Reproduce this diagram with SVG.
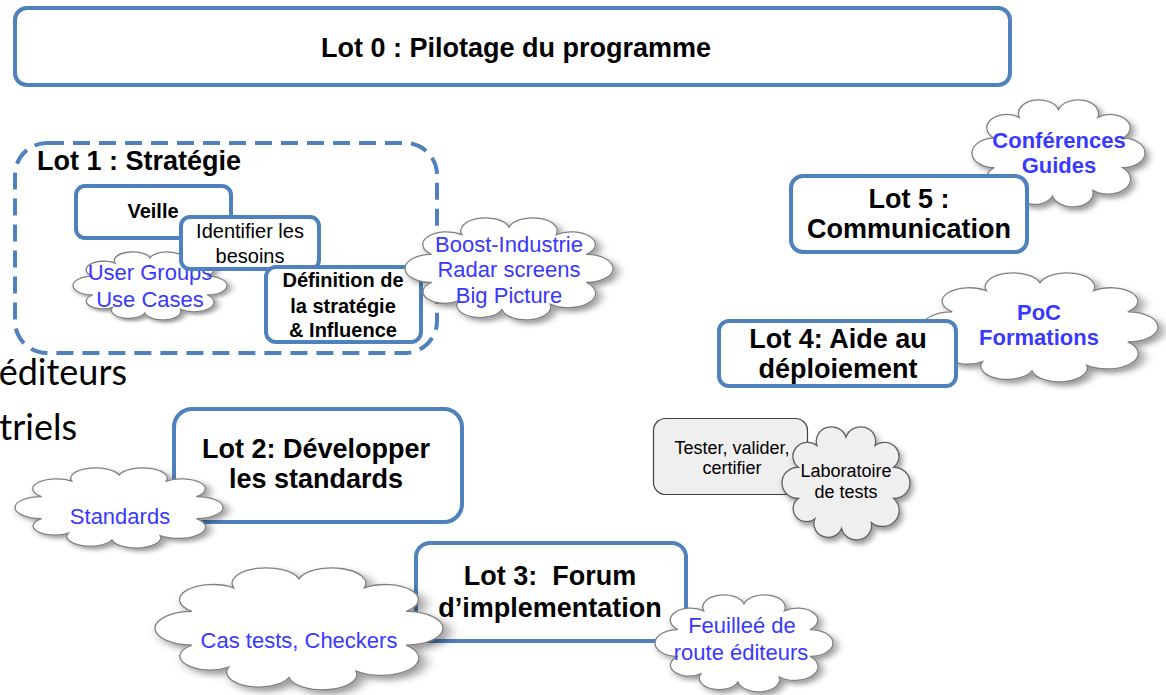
<svg xmlns="http://www.w3.org/2000/svg" xmlns:xlink="http://www.w3.org/1999/xlink" width="1166" height="695" viewBox="0 0 1166 695">
<style>
.box{fill:#fff;stroke:#4f81bd;stroke-width:4}
.dash{fill:none;stroke:#4f81bd;stroke-width:4;stroke-dasharray:17 9}
.cl{fill:#fff;stroke:#808080;stroke-width:1.3;filter:url(#sh)}
.clg{fill:#efefef;stroke:#606060;stroke-width:1.3;filter:url(#sh)}
.gbox{fill:#efefef;stroke:#404040;stroke-width:1.2}
.t{font-family:"Liberation Sans",Arial,sans-serif;text-anchor:middle;fill:#000}
.b{font-weight:bold}
.blue{fill:#3838ff}
.big{font-size:27px}
.mid{font-size:20px}
.cs{font-size:22px}
.sm{font-size:18px}
.bg{font-family:Lato,"Open Sans",sans-serif;font-size:36px;fill:#000;text-anchor:end}
</style>
<defs>
<filter id="sh" x="-10%" y="-10%" width="130%" height="135%">
<feDropShadow dx="2" dy="3" stdDeviation="2.2" flood-color="#000" flood-opacity="0.4"/>
</filter>
<path id="cloud" vector-effect="non-scaling-stroke" d="M12.3,56.3 A1,1 0 0 1 12.3,31.7 A1,1 0 0 1 26.2,14.5 A1,1 0 0 1 48,8 A1,1 0 0 1 69.8,14.5 A1,1 0 0 1 83.7,31.7 A1,1 0 0 1 83.7,56.3 A1,1 0 0 1 67,75.2 A1,1 0 0 1 44.7,79.9 A1,1 0 0 1 24.6,72.4 A1,1 0 0 1 12.3,56.3 Z"/>
</defs>

<g id="lot0">
<rect class="box" x="15" y="8" width="995" height="77" rx="12"/>
<text class="t b big" x="516" y="57">Lot 0 : Pilotage du programme</text>
</g>

<g id="background-text">
<text class="bg" x="127" y="385">éditeurs</text>
<text class="bg" x="77" y="440">triels</text>
</g>

<g id="lot1">
<rect class="dash" x="15" y="143" width="422" height="210" rx="32"/>
<text class="t b big" x="37" y="170" style="text-anchor:start">Lot 1 : Stratégie</text>
</g>
<g id="cloud-usergroups">
<use xlink:href="#cloud" class="cl" transform="translate(73,252) scale(1.604,0.764)"/>
<text class="t cs blue" x="150" y="280">User Groups</text>
<text class="t cs blue" x="150" y="307">Use Cases</text>
</g>
<g id="veille">
<rect class="box" x="76" y="186" width="155" height="52" rx="9"/>
<text class="t b mid" x="153" y="218">Veille</text>
</g>
<g id="identifier">
<rect class="box" x="181" y="217" width="138" height="52" rx="9"/>
<text class="t mid" x="250" y="238">Identifier les</text>
<text class="t mid" x="250" y="263">besoins</text>
</g>
<g id="definition">
<rect class="box" x="266" y="267" width="155" height="75" rx="10"/>
<text class="t b mid" x="343" y="287">Définition de</text>
<text class="t b mid" x="343" y="313">la stratégie</text>
<text class="t b mid" x="343" y="337">&amp; Influence</text>
</g>
<g id="cloud-boost">
<use xlink:href="#cloud" class="cl" transform="translate(405,218) scale(2.167,1.146)"/>
<text class="t cs blue" x="509" y="252">Boost-Industrie</text>
<text class="t cs blue" x="509" y="277">Radar screens</text>
<text class="t cs blue" x="509" y="303">Big Picture</text>
</g>

<g id="cloud-conferences">
<use xlink:href="#cloud" class="cl" transform="translate(972,100) scale(1.802,1.202)"/>
<text class="t b cs blue" x="1059" y="148">Conférences</text>
<text class="t b cs blue" x="1059" y="173">Guides</text>
</g>
<g id="lot5">
<rect class="box" x="791" y="176" width="236" height="76" rx="12"/>
<text class="t b big" x="909" y="208">Lot 5 :</text>
<text class="t b big" x="909" y="238">Communication</text>
</g>

<g id="cloud-poc">
<use xlink:href="#cloud" class="cl" transform="translate(922,273) scale(2.458,1.225)"/>
<text class="t b cs blue" x="1039" y="320">PoC</text>
<text class="t b cs blue" x="1039" y="345">Formations</text>
</g>
<g id="lot4">
<rect class="box" x="719" y="321" width="237" height="65" rx="10"/>
<text class="t b big" x="838" y="348">Lot 4: Aide au</text>
<text class="t b big" x="838" y="378">déploiement</text>
</g>

<g id="tester">
<rect class="gbox" x="653.5" y="418.5" width="154" height="76" rx="12"/>
<text class="t sm" x="732" y="454">Tester, valider,</text>
<text class="t sm" x="732" y="474">certifier</text>
</g>
<g id="cloud-laboratoire">
<use xlink:href="#cloud" class="clg" transform="translate(782,427) scale(1.333,1.27)"/>
<text class="t sm" x="846" y="477">Laboratoire</text>
<text class="t sm" x="846" y="498">de tests</text>
</g>

<g id="lot2">
<rect class="box" x="174" y="409" width="288" height="113" rx="18"/>
<text class="t b big" x="316" y="458">Lot 2: Développer</text>
<text class="t b big" x="316" y="488">les standards</text>
</g>
<g id="cloud-standards">
<use xlink:href="#cloud" class="cl" transform="translate(15,468) scale(2.167,0.9)"/>
<text class="t cs blue" x="120" y="524">Standards</text>
</g>

<g id="lot3">
<rect class="box" x="416" y="543" width="270" height="98" rx="14"/>
<text class="t b big" x="550" y="585">Lot 3:&#160; Forum</text>
<text class="t b big" x="550" y="617">d’implementation</text>
</g>
<g id="cloud-castests">
<use xlink:href="#cloud" class="cl" transform="translate(155,568) scale(3.0,1.37)"/>
<text class="t cs blue" x="299" y="648">Cas tests, Checkers</text>
</g>
<g id="cloud-feuillee">
<use xlink:href="#cloud" class="cl" transform="translate(655,595) scale(1.854,1.09)"/>
<text class="t cs blue" x="742" y="633">Feuilleé de</text>
<text class="t cs blue" x="741" y="660">route éditeurs</text>
</g>

<g id="connectors"/>
</svg>
